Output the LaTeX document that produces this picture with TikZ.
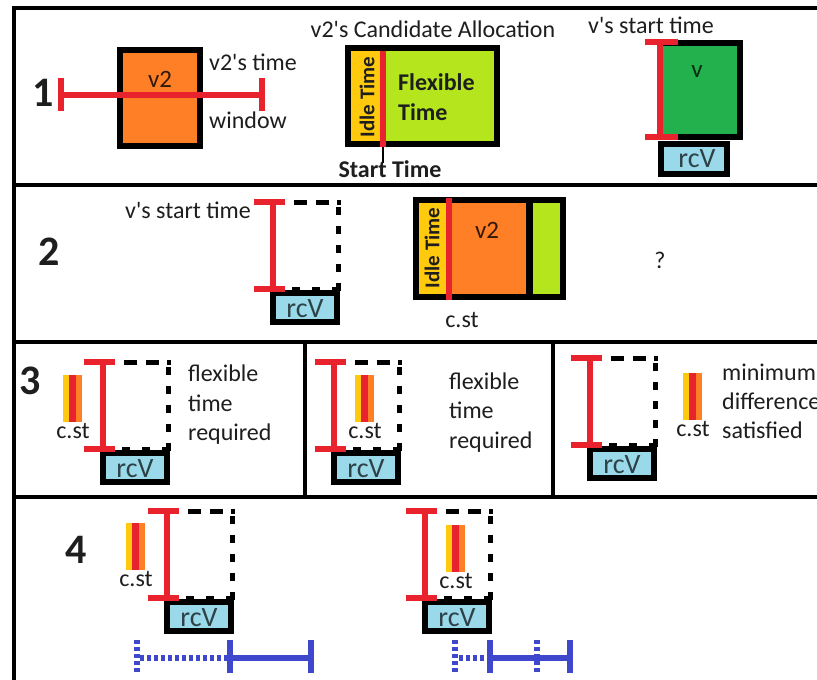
\documentclass[tikz,border=0pt]{standalone}
\usepackage{fontspec}
\setmainfont{Carlito}
\usepackage{xcolor}
\definecolor{Paper}{HTML}{FFFFFF}
\definecolor{Ink}{HTML}{1E1E1E}
\definecolor{PRed}{HTML}{E8232E}
\definecolor{POrange}{HTML}{FF7F27}
\definecolor{PYellow}{HTML}{FFC90E}
\definecolor{PLime}{HTML}{B5E61D}
\definecolor{PGreen}{HTML}{22B14C}
\definecolor{PSky}{HTML}{99D9EA}
\definecolor{PBlue}{HTML}{3F48CC}
\begin{document}
\begin{tikzpicture}[x=1pt,y=-1pt,
  every node/.style={font=\fontsize{24}{28}\selectfont,text=Ink,inner sep=0pt},
  digit/.style={font=\fontsize{42}{46}\selectfont\bfseries},
  boldtxt/.style={font=\fontsize{24}{28}\selectfont\bfseries},
  idletxt/.style={font=\fontsize{21}{24}\selectfont\bfseries,rotate=90},
  boxtxt/.style={font=\fontsize{25}{28}\selectfont,anchor=base},
  rcvtxt/.style={font=\fontsize{28}{30}\selectfont,anchor=base,text=PSky!30!black},
  frame/.style={line width=3.5pt},
  boxline/.style={line width=6pt},
  ibeam/.style={PRed,line width=5.5pt},
  dashline/.style={line width=5pt},
  blueline/.style={PBlue,line width=5.5pt},
  bluedot/.style={PBlue,line width=6pt,dash pattern=on 3.5pt off 3.5pt},
  slot/.pic={
    \draw[dashline,dash pattern=on 13pt off 8.5pt] (21,0)--(67.5,0);
    \draw[dashline,dash pattern=on 8pt off 11pt] (65,5)--(65,89.5);
    \draw[dashline,dash pattern=on 8pt off 12pt] (19,87)--(67.5,87);
    \filldraw[fill=PSky,boxline] (0,91) rectangle (64,120);
    \node[rcvtxt] (-r) at (32,115) {rcV};
    \draw[ibeam] (-19,0)--(12,0) (0,0)--(0,87) (-19,87)--(12,87);},
  cst/.pic={
    \fill[PYellow] (-9.5,0) rectangle (-3,47);\fill[PRed] (-3,0) rectangle (3.5,47);\fill[POrange] (3.5,0) rectangle (9.5,47);
    \node[anchor=base] (-l) at (1,63) {c.st};}]
\fill[Paper] (0,0) rectangle (817,680);
\useasboundingbox (0,0) rectangle (817,680);
\draw[frame] (14,680)--(14,8)--(817,8);
\draw[frame] (14,185)--(817,185) (14,342)--(817,342) (14,497)--(817,497);
\draw[frame] (305,342)--(305,497) (553,342)--(553,497);
\node[digit] (n1) at (43,93) {1};
\node[digit] (n2) at (49,252) {2};
\node[digit] (n3) at (30,381) {3};
\node[digit] (n4) at (76,550) {4};
% row 1
\filldraw[fill=POrange,boxline] (120,50) rectangle (200,146);
\node[boxtxt,text=POrange!20!black] (v2a) at (160,87) {v2};
\draw[ibeam] (61,78)--(61,111) (61,95)--(262,95) (262,78)--(262,111);
\node[anchor=base west] (tw1) at (209,70) {v2\textquotesingle s time};
\node[anchor=base west] (tw2) at (209,128) {window};
\node[anchor=base] (cand) at (433,37) {v2\textquotesingle s Candidate Allocation};
\fill[PLime] (348,48) rectangle (497,144);\fill[PYellow] (348,48) rectangle (381,144);
\draw[boxline] (348,48) rectangle (497,144);
\draw[PRed,line width=6pt] (383,51)--(383,147);
\draw[line width=2.5pt] (383,147)--(383,163);
\node[idletxt] (idle1) at (367,97) {Idle Time};
\node[boldtxt,anchor=base west] (flex) at (398,90) {Flexible};
\node[boldtxt,anchor=base west] (ftime) at (398,120) {Time};
\node[boldtxt,anchor=base] (stt) at (390,177) {Start Time};
\node[anchor=base] (vst1) at (651,33) {v\textquotesingle s start time};
\filldraw[fill=PGreen,boxline] (660,43) rectangle (740,137);
\filldraw[fill=PSky,boxline] (661,144) rectangle (727,174);
\node[boxtxt,text=PGreen!25!black] (v1) at (697,77) {v};
\node[rcvtxt] (rc1) at (697,167) {rcV};
\draw[ibeam] (645,42)--(678,42) (660,42)--(660,137) (645,137)--(678,137);
% row 2
\node[anchor=base] (vst2) at (188,218) {v\textquotesingle s start time};
\pic (s2) at (273,202) {slot};
\fill[POrange] (416,200) rectangle (563,297);\fill[PYellow] (416,200) rectangle (446,297);\fill[PLime] (529,200) rectangle (563,297);
\draw[boxline] (416,200) rectangle (563,297);\draw[line width=7pt] (529.5,200)--(529.5,297);
\draw[PRed,line width=6pt] (448.5,198)--(448.5,300);
\node[idletxt] (idle2) at (432,248) {Idle Time};
\node[boxtxt,text=POrange!20!black] (v2b) at (487,238) {v2};
\node[anchor=base] (cst2) at (462,327) {c.st};
\node[anchor=base] (q) at (660,268) {?};
% row 3
\pic (c3a) at (72,375) {cst};\pic (s3a) at (103,362) {slot};
\node[anchor=base west] (f3a) at (188,381) {flexible};
\node[anchor=base west] (t3a) at (188,411) {time};
\node[anchor=base west] (r3a) at (188,440) {required};
\pic (s3b) at (334,362) {slot};\pic (c3b) at (364,375) {cst};
\node[anchor=base west] (f3b) at (449,389) {flexible};
\node[anchor=base west] (t3b) at (449,418) {time};
\node[anchor=base west] (r3b) at (449,448) {required};
\pic (s3c) at (590,358) {slot};\pic (c3c) at (692,373) {cst};
\node[anchor=base west] (m3c) at (722,380) {minimum};
\node[anchor=base west] (d3c) at (722,409) {difference};
\node[anchor=base west] (s3t) at (722,438) {satisfied};
% row 4
\pic (c4a) at (135,523) {cst};\pic (s4a) at (167,511) {slot};
\draw[bluedot] (137,640)--(137,673) (140,658)--(228,658);
\draw[blueline] (230,640)--(230,673) (230,658)--(311,658) (311,640)--(311,673);
\pic (s4b) at (425,511) {slot};\pic (c4b) at (455,525) {cst};
\draw[blueline] (490,640)--(490,673) (490,658)--(570,658) (570,640)--(570,673);
\draw[bluedot] (455,640)--(455,673) (459,658)--(488,658) (537,640)--(537,673);
\end{tikzpicture}
\end{document}
